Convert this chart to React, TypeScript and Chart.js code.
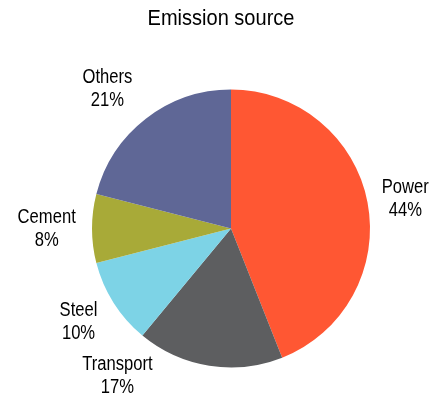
import React, { useEffect, useRef } from "react";
import { Chart, registerables } from "chart.js";

Chart.register(...registerables);

const categories = ["Power", "Transport", "Steel", "Cement", "Others"];
const shares = [44, 17, 10, 8, 21];
const colors = ["#FF5733", "#5D5E60", "#7DD3E6", "#A8AA38", "#5F6796"];
const titleText = "Emission source";
// label centre offsets, in units of pie radius, from pie centre
const labelOffsets: [number, number][] = [
  [1.254, -0.211],
  [-0.817, 1.061],
  [-1.097, 0.67],
  [-1.326, 0],
  [-0.889, -1.007],
];

const FONT = '"Liberation Sans", Arial, sans-serif';

function narrowText(ctx: CanvasRenderingContext2D, text: string, x: number, y: number, sx: number) {
  ctx.save();
  ctx.translate(x, y);
  ctx.scale(sx, 1);
  ctx.fillText(text, 0, 0);
  ctx.restore();
}

const labelPlugin = {
  id: "outerLabels",
  afterDraw(chart: any) {
    const ctx = chart.ctx;
    const meta = chart.getDatasetMeta(0);
    ctx.save();
    ctx.fillStyle = "#000";
    ctx.textAlign = "center";
    ctx.textBaseline = "middle";
    ctx.font = `22.5px ${FONT}`;
    narrowText(ctx, titleText, 221, 19, 0.89);
    ctx.font = `20px ${FONT}`;
    meta.data.forEach((arc: any, i: number) => {
      const { x, y, outerRadius } = arc.getProps(["x", "y", "outerRadius"], true);
      const lx = x + labelOffsets[i][0] * outerRadius;
      const ly = y + labelOffsets[i][1] * outerRadius;
      narrowText(ctx, categories[i], lx, ly - 11.5, 0.83);
      narrowText(ctx, `${shares[i]}%`, lx, ly + 11.5, 0.83);
    });
    ctx.restore();
  },
};

export default function App() {
  const ref = useRef<HTMLCanvasElement>(null);
  useEffect(() => {
    const chart = new Chart(ref.current!, {
      type: "pie",
      data: {
        labels: categories,
        datasets: [
          {
            data: shares,
            backgroundColor: colors,
            borderWidth: 0,
          },
        ],
      },
      options: {
        responsive: false,
        animation: false,
        layout: { padding: { left: 92, right: 78, top: 89, bottom: 32 } },
        plugins: {
          legend: { display: false },
          tooltip: { enabled: false },
          title: { display: false },
        },
      },
      plugins: [labelPlugin],
    });
    return () => chart.destroy();
  }, []);
  return (
    <div style={{ position: "fixed", left: 0, top: 0, width: 448, height: 400, background: "#fff" }}>
      <canvas ref={ref} width={448} height={400} />
    </div>
  );
}
